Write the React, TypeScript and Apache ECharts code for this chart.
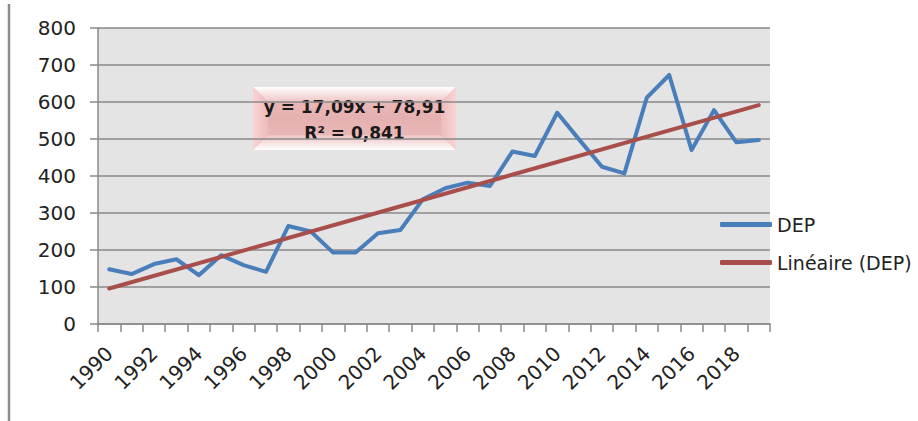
import React, { useEffect, useRef } from "react";
import * as echarts from "echarts";

const years: string[] = [
  "1990", "1991", "1992", "1993", "1994", "1995", "1996", "1997", "1998", "1999",
  "2000", "2001", "2002", "2003", "2004", "2005", "2006", "2007", "2008", "2009",
  "2010", "2011", "2012", "2013", "2014", "2015", "2016", "2017", "2018", "2019",
];
const dep: number[] = [
  148, 135, 162, 175, 132, 186, 159, 141, 265, 250,
  193, 193, 245, 254, 337, 367, 382, 373, 466, 454,
  571, 497, 425, 407, 612, 673, 470, 578, 491, 497,
];
// trend line endpoints (first and last year)
const trendYears: string[] = ["1990", "2019"];
const trendValues: number[] = [96, 591.6];
const yTicks: number[] = [0, 100, 200, 300, 400, 500, 600, 700, 800];
const equationLines: string[] = ["y = 17,09x + 78,91", "R² = 0,841"];
const legendNames: string[] = ["DEP", "Linéaire (DEP)"];

const FONT = "DejaVu Sans";

export default function App() {
  const ref = useRef<HTMLDivElement>(null);
  useEffect(() => {
    if (!ref.current) return;
    const chart = echarts.init(ref.current, undefined, { renderer: "svg" });
    const bx = 253, by = 87, bw = 203, bh = 63, bv = 15;
    chart.setOption({
      animation: false,
      backgroundColor: "#ffffff",
      grid: { left: 98, right: 148, top: 28, bottom: 97, show: true, backgroundColor: "#e4e4e4", borderWidth: 0 },
      legend: {
        orient: "vertical",
        left: 715,
        top: 210,
        itemWidth: 52,
        itemHeight: 5,
        itemGap: 19,
        itemStyle: { borderWidth: 0 },
        icon: "roundRect",
        textStyle: { fontFamily: FONT, fontSize: 19, color: "#222" },
        data: legendNames,
      },
      xAxis: {
        type: "category",
        data: years,
        boundaryGap: true,
        axisLine: { lineStyle: { color: "#8a8a8a", width: 1.5 } },
        axisTick: { show: true, interval: 0, length: 8, lineStyle: { color: "#8a8a8a", width: 1.5 } },
        axisLabel: {
          interval: 1,
          rotate: 45,
          margin: 26,
          fontFamily: FONT,
          fontSize: 20,
          color: "#222",
        },
        splitLine: { show: false },
      },
      yAxis: {
        type: "value",
        min: yTicks[0],
        max: yTicks[yTicks.length - 1],
        interval: 100,
        axisLine: { show: true, lineStyle: { color: "#8a8a8a", width: 1.5 } },
        axisTick: { show: true, length: 8, lineStyle: { color: "#8a8a8a", width: 1.5 } },
        axisLabel: { margin: 22, fontFamily: FONT, fontSize: 20, color: "#222" },
        splitLine: { show: true, lineStyle: { color: "#8a8a8a", width: 1.5 } },
      },
      series: [
        {
          name: legendNames[0],
          type: "line",
          data: dep,
          symbol: "none",
          lineStyle: { color: "#4a7ebb", width: 4, cap: "round", join: "round" },
          itemStyle: { color: "#4a7ebb" },
          z: 3,
        },
        {
          name: legendNames[1],
          type: "line",
          data: trendYears.map((y, i) => [y, trendValues[i]]),
          symbol: "none",
          lineStyle: { color: "#a84e4b", width: 4, cap: "round" },
          itemStyle: { color: "#a84e4b" },
          z: 4,
        },
      ],
      graphic: [
        {
          type: "line",
          shape: { x1: 9, y1: 4, x2: 9, y2: 421 },
          style: { stroke: "#8c8c8c", lineWidth: 2.5 },
        },
        {
          type: "group",
          z: 100,
          children: [
            {
              type: "rect",
              shape: { x: bx, y: by, width: bw, height: bh },
              style: {
                fill: new echarts.graphic.LinearGradient(0, 0, 0, 1, [
                  { offset: 0, color: "#eebcbc" },
                  { offset: 0.5, color: "#e5b0b0" },
                  { offset: 1, color: "#eebdbd" },
                ]),
              },
            },
            {
              type: "polygon",
              shape: { points: [[bx, by], [bx + bw, by], [bx + bw - bv, by + bv], [bx + bv, by + bv]] },
              style: {
                fill: new echarts.graphic.LinearGradient(0, 0, 0, 1, [
                  { offset: 0, color: "#ffffff" },
                  { offset: 1, color: "#efc4c4" },
                ]),
              },
            },
            {
              type: "polygon",
              shape: { points: [[bx, by + bh], [bx + bw, by + bh], [bx + bw - bv, by + bh - bv], [bx + bv, by + bh - bv]] },
              style: {
                fill: new echarts.graphic.LinearGradient(0, 0, 0, 1, [
                  { offset: 0, color: "#eec2c2" },
                  { offset: 1, color: "#ffffff" },
                ]),
              },
            },
            {
              type: "polygon",
              shape: { points: [[bx, by], [bx + bv, by + bv], [bx + bv, by + bh - bv], [bx, by + bh]] },
              style: {
                fill: new echarts.graphic.LinearGradient(0, 0, 1, 0, [
                  { offset: 0, color: "#fad3d3" },
                  { offset: 1, color: "#ecbcbc" },
                ]),
              },
            },
            {
              type: "polygon",
              shape: { points: [[bx + bw, by], [bx + bw - bv, by + bv], [bx + bw - bv, by + bh - bv], [bx + bw, by + bh]] },
              style: {
                fill: new echarts.graphic.LinearGradient(1, 0, 0, 0, [
                  { offset: 0, color: "#fad3d3" },
                  { offset: 1, color: "#ecbcbc" },
                ]),
              },
            },
            {
              type: "text",
              x: bx + bw / 2,
              y: 107,
              style: {
                text: equationLines[0],
                font: `bold 17px "${FONT}"`,
                fill: "#1a1a1a",
                align: "center",
                verticalAlign: "middle",
              },
            },
            {
              type: "text",
              x: bx + bw / 2,
              y: 133,
              style: {
                text: equationLines[1],
                font: `bold 17px "${FONT}"`,
                fill: "#1a1a1a",
                align: "center",
                verticalAlign: "middle",
              },
            },
          ],
        },
      ],
    });
    return () => chart.dispose();
  }, []);
  return (
    <div
      ref={ref}
      style={{ position: "fixed", left: 0, top: 0, width: 918, height: 421, background: "#fff" }}
    />
  );
}
